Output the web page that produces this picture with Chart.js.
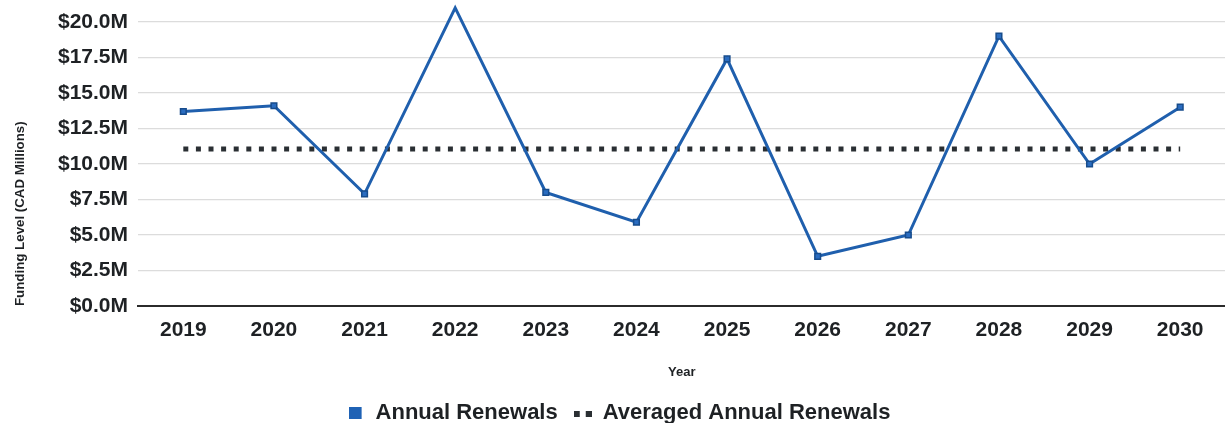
<!DOCTYPE html>
<html>
<head>
<meta charset="utf-8">
<script src="https://cdn.jsdelivr.net/npm/chart.js@4.4.1/dist/chart.umd.min.js"></script>
<style>
  html, body { margin: 0; padding: 0; background: #ffffff; overflow: hidden; width: 1225px; height: 423px; }
  canvas { display: block; }
</style>
</head>
<body>
<canvas id="c" width="1231" height="423" style="width:1231px;height:423px"></canvas>
<script>
const years = ['2019','2020','2021','2022','2023','2024','2025','2026','2027','2028','2029','2030'];
const annualRenewals = [13.7, 14.1, 7.9, 21.0, 8.0, 5.9, 17.4, 3.5, 5.0, 19.0, 10.0, 14.0];
const averagedAnnualRenewals = [11.05, 11.05, 11.05, 11.05, 11.05, 11.05, 11.05, 11.05, 11.05, 11.05, 11.05, 11.05];
const yTicks = [0, 2.5, 5, 7.5, 10, 12.5, 15, 17.5, 20];
const seriesNames = ['Annual Renewals', 'Averaged Annual Renewals'];
const yTitle = 'Funding Level (CAD Millions)';
const xTitle = 'Year';

const FONT = "'Liberation Sans', Arial, sans-serif";
const BLUE = '#1f5fad';
const DOT = '#2a2f33';
const TEXT = '#1e2124';

function squareIcon() {
  const c = document.createElement('canvas');
  c.width = 14; c.height = 14;
  const g = c.getContext('2d');
  g.fillStyle = '#1f62b5';
  g.fillRect(0, 1, 13, 12);
  return c;
}
function dotsIcon() {
  const c = document.createElement('canvas');
  c.width = 18; c.height = 14;
  const g = c.getContext('2d');
  g.fillStyle = DOT;
  g.fillRect(0, 5, 6, 6);
  g.fillRect(12, 5, 6, 6);
  return c;
}

new Chart(document.getElementById('c'), {
  type: 'line',
  data: {
    labels: years,
    datasets: [
      {
        label: seriesNames[0],
        data: annualRenewals,
        borderColor: BLUE,
        backgroundColor: BLUE,
        borderWidth: 3,
        pointStyle: 'rect',
        pointRadius: 4,
        pointBorderColor: '#174c8c',
        pointBackgroundColor: '#2a6cc0',
        pointBorderWidth: 1.5,
        tension: 0,
        clip: false,
        order: 1
      },
      {
        label: seriesNames[1],
        data: averagedAnnualRenewals,
        borderColor: DOT,
        backgroundColor: DOT,
        borderWidth: 5,
        borderDash: [5, 7.6],
        borderCapStyle: 'butt',
        pointRadius: 0,
        tension: 0,
        order: 2
      }
    ]
  },
  options: {
    responsive: false,
    maintainAspectRatio: false,
    animation: false,
    devicePixelRatio: 1,
    layout: { padding: { top: 22, right: 0, left: 6, bottom: -11 } },
    plugins: {
      tooltip: { enabled: false },
      legend: {
        position: 'bottom',
        labels: {
          usePointStyle: true,
          pointStyleWidth: 18,
          color: TEXT,
          font: { family: FONT, size: 22, weight: 'bold' },
          padding: 16,
          generateLabels: (chart) => [
            { text: seriesNames[0], pointStyle: squareIcon(), fillStyle: BLUE, strokeStyle: BLUE, lineWidth: 0, datasetIndex: 0, fontColor: TEXT },
            { text: seriesNames[1], pointStyle: dotsIcon(), fillStyle: DOT, strokeStyle: DOT, lineWidth: 0, datasetIndex: 1, fontColor: TEXT }
          ]
        }
      }
    },
    scales: {
      x: {
        offset: true,
        afterFit: (scale) => { scale.height = 80; scale.paddingRight = 0; scale.paddingLeft = 0; },
        grid: { display: false, drawTicks: false },
        border: { display: true, color: '#2b2b2b', width: 2 },
        ticks: {
          color: TEXT,
          font: { family: FONT, size: 21, weight: 'bold' },
          padding: 12,
          maxRotation: 0,
          autoSkip: false
        },
        title: {
          display: true,
          text: xTitle,
          color: TEXT,
          font: { family: FONT, size: 13, weight: 'bold' },
          padding: { top: 4, bottom: 6 }
        }
      },
      y: {
        min: 0,
        max: 20,
        afterBuildTicks: (scale) => { scale.ticks = yTicks.map(v => ({ value: v })); },
        afterFit: (scale) => { scale.width = 132; scale.paddingTop = 0; scale.paddingBottom = 0; },
        grid: { color: '#dcdcdc', lineWidth: 1.2, drawTicks: false },
        border: { display: false },
        ticks: {
          color: TEXT,
          font: { family: FONT, size: 21, weight: 'bold' },
          padding: 10,
          callback: (v) => '$' + Number(v).toFixed(1) + 'M'
        },
        title: {
          display: true,
          text: yTitle,
          align: 'start',
          color: TEXT,
          font: { family: FONT, size: 13.3, weight: 'bold' },
          padding: { top: 6, bottom: 0 }
        }
      }
    }
  }
});
</script>
</body>
</html>
